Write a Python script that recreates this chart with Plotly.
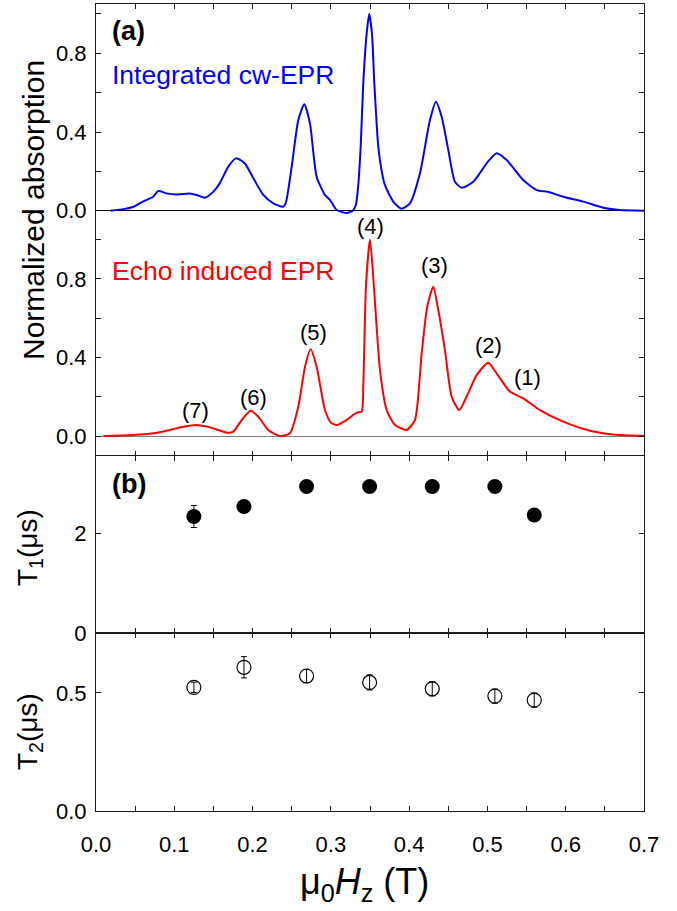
import plotly.graph_objects as go

# ---- Spectra -------------------------------------------------------------
cw_field = [0.019, 0.035, 0.048, 0.061, 0.073, 0.0796, 0.090, 0.103, 0.120, 0.1286,
            0.139, 0.150, 0.158, 0.169, 0.179, 0.190, 0.201, 0.2137, 0.2265, 0.239,
            0.2425, 0.250, 0.2584, 0.266, 0.2733, 0.2818, 0.2925, 0.299, 0.307, 0.320,
            0.328, 0.332, 0.335, 0.3381, 0.3414, 0.3457, 0.349, 0.3525, 0.3555, 0.3606,
            0.365, 0.369, 0.3797, 0.390, 0.401, 0.4138, 0.4266, 0.4342, 0.4415, 0.450,
            0.4585, 0.467, 0.4819, 0.499, 0.5117, 0.5245, 0.5457, 0.5628, 0.5777, 0.5968,
            0.6223, 0.648, 0.669, 0.700]
cw_abs = [0.0, 0.008, 0.02, 0.049, 0.071, 0.10, 0.088, 0.083, 0.088, 0.080,
          0.066, 0.097, 0.139, 0.224, 0.266, 0.241, 0.165, 0.080, 0.037, 0.02,
          0.04, 0.224, 0.461, 0.541, 0.444, 0.173, 0.08, 0.054, 0.005, -0.012,
          0.0, 0.03, 0.13, 0.325, 0.648, 0.90, 1.0, 0.90, 0.648, 0.325,
          0.2, 0.131, 0.046, 0.01, 0.037, 0.19, 0.461, 0.554, 0.478, 0.309,
          0.147, 0.117, 0.147, 0.241, 0.292, 0.258, 0.156, 0.105, 0.095, 0.071,
          0.046, 0.015, 0.003, 0.0]

echo_field = [0.0094, 0.0477, 0.073, 0.0945, 0.1115, 0.1286, 0.1456, 0.167, 0.1754, 0.186,
              0.1975, 0.2073, 0.220, 0.235, 0.2478, 0.2584, 0.267, 0.2742, 0.2818, 0.2925,
              0.300, 0.3074, 0.320, 0.333, 0.3393, 0.3414, 0.3448, 0.350, 0.355, 0.3627,
              0.3713, 0.3819, 0.3968, 0.4074, 0.416, 0.4231, 0.4308, 0.4372, 0.4457, 0.4543,
              0.464, 0.4734, 0.4862, 0.501, 0.5117, 0.5287, 0.5457, 0.567, 0.5968, 0.6309,
              0.6607, 0.700]
echo_amp = [0.0, 0.005, 0.014, 0.031, 0.047, 0.056, 0.044, 0.017, 0.022, 0.081,
            0.129, 0.098, 0.031, 0.0, 0.014, 0.149, 0.353, 0.441, 0.353, 0.132,
            0.068, 0.056, 0.081, 0.119, 0.124, 0.251, 0.76, 1.0, 0.76, 0.336,
            0.132, 0.056, 0.031, 0.081, 0.421, 0.658, 0.76, 0.641, 0.438, 0.2,
            0.132, 0.2, 0.31, 0.373, 0.319, 0.226, 0.192, 0.132, 0.073, 0.027,
            0.008, 0.0]

# ---- Relaxation times at the resonance fields ------------------------------
peak_field = [0.125, 0.189, 0.269, 0.3495, 0.4295, 0.5095, 0.5598]
t1_us = [2.33, 2.53, 2.93, 2.93, 2.93, 2.93, 2.36]
t1_err = [0.22, 0.05, 0.05, 0.05, 0.05, 0.05, 0.05]
t2_us = [0.523, 0.608, 0.571, 0.544, 0.517, 0.486, 0.469]
t2_err = [0.022, 0.045, 0.028, 0.032, 0.03, 0.03, 0.03]

# ---- Transition labels ----------------------------------------------------
peak_names = ["(7)", "(6)", "(5)", "(4)", "(3)", "(2)", "(1)"]
peak_label_x = [0.1265, 0.2018, 0.2772, 0.3509, 0.4322, 0.5011, 0.5509]
peak_label_y = [0.132, 0.198, 0.529, 1.064, 0.870, 0.463, 0.30]

W, H = 677, 911
ML, MR, MT, MB = 96, 33, 4, 100
PW, PH = W - ML - MR, H - MT - MB
FONT = "Liberation Sans, Arial, sans-serif"
AX = "#1a1a1a"


def py(px):
    """pixel row -> paper y"""
    return (H - MB - px) / PH


def px_(x):
    """pixel column -> paper x"""
    return (x - ML) / PW


fig = go.Figure()

fig.add_trace(go.Scatter(x=cw_field, y=cw_abs, mode="lines",
                         line=dict(color="#0000ff", width=2, shape="spline", smoothing=0.6),
                         xaxis="x", yaxis="y", showlegend=False))
fig.add_trace(go.Scatter(x=echo_field, y=echo_amp, mode="lines",
                         line=dict(color="#ff0000", width=2, shape="spline", smoothing=0.6),
                         xaxis="x2", yaxis="y2", showlegend=False))
fig.add_trace(go.Scatter(x=peak_field, y=t1_us, mode="markers",
                         marker=dict(color="black", size=15, symbol="circle"),
                         error_y=dict(type="data", array=t1_err, color="black",
                                      thickness=1, width=3),
                         xaxis="x3", yaxis="y3", showlegend=False))
fig.add_trace(go.Scatter(x=peak_field, y=t2_us, mode="markers",
                         marker=dict(color="black", size=14, symbol="circle-open",
                                     line=dict(width=1.2, color="black")),
                         error_y=dict(type="data", array=t2_err, color="black",
                                      thickness=1, width=3),
                         xaxis="x4", yaxis="y4", showlegend=False))

tickfont = dict(family=FONT, size=22, color="black")
xcommon = dict(range=[0, 0.7], tick0=0, dtick=0.1, tickformat=".1f",
               ticks="inside", ticklen=5, tickcolor=AX, linecolor=AX, linewidth=1,
               minor=dict(tick0=0, dtick=0.05, ticks="inside", ticklen=5,
                          tickcolor=AX, showgrid=False),
               showgrid=False, zeroline=False, tickfont=tickfont, fixedrange=True)
ycommon = dict(ticks="inside", ticklen=5, tickcolor=AX, linecolor=AX, linewidth=1,
               showline=True, mirror="ticks", showgrid=False, tickfont=tickfont,
               ticklabelstandoff=4, fixedrange=True)
abs_axis = dict(tick0=0, dtick=0.4, tickformat=".1f",
                minor=dict(tick0=0, dtick=0.2, ticks="inside", ticklen=5,
                           tickcolor=AX, showgrid=False))

fig.update_layout(
    width=W, height=H,
    margin=dict(l=ML, r=MR, t=MT, b=MB),
    paper_bgcolor="white", plot_bgcolor="rgba(0,0,0,0)",
    font=dict(family=FONT, color="black"),
    xaxis=dict(xcommon, anchor="y", side="top", showline=True, mirror=False,
               showticklabels=False),
    yaxis=dict(ycommon, **abs_axis, domain=[py(218), 1.0], range=[-0.0371, 1.0508],
               zeroline=True, zerolinecolor="black", zerolinewidth=1),
    xaxis2=dict(xcommon, anchor="y2", showline=False, showticklabels=False),
    yaxis2=dict(ycommon, **abs_axis, domain=[py(456), py(210.7)], range=[-0.1018, 1.1466],
                zeroline=True, zerolinecolor="#808080", zerolinewidth=1),
    xaxis3=dict(xcommon, anchor="y3", showline=True, mirror="ticks",
                showticklabels=False),
    yaxis3=dict(ycommon, domain=[py(633), py(456)], range=[0, 3.54],
                tick0=0, dtick=2, tickformat="d", zeroline=False),
    xaxis4=dict(xcommon, anchor="y4", showline=True, mirror="ticks",
                showticklabels=True, ticklabelstandoff=14),
    yaxis4=dict(ycommon, domain=[0, py(633)], range=[0, 0.753],
                tick0=0, dtick=0.5, tickformat=".1f", zeroline=False),
)

ann = []
for name, lx, ly in zip(peak_names, peak_label_x, peak_label_y):
    ann.append(dict(x=lx, y=ly, xref="x2", yref="y2", text=name, showarrow=False,
                    font=dict(size=22, family=FONT, color="black"),
                    xanchor="center", yanchor="middle"))

ann += [
    dict(x=px_(110), y=py(31), xref="paper", yref="paper", text="<b>(a)</b>",
         showarrow=False, xanchor="left", yanchor="middle",
         font=dict(size=27, family=FONT, color="black")),
    dict(x=px_(110), y=py(484), xref="paper", yref="paper", text="<b>(b)</b>",
         showarrow=False, xanchor="left", yanchor="middle",
         font=dict(size=27, family=FONT, color="black")),
    dict(x=px_(110), y=py(75), xref="paper", yref="paper", text="Integrated cw-EPR",
         showarrow=False, xanchor="left", yanchor="middle",
         font=dict(size=26.5, family=FONT, color="#0000ff")),
    dict(x=px_(110), y=py(271), xref="paper", yref="paper", text="Echo induced EPR",
         showarrow=False, xanchor="left", yanchor="middle",
         font=dict(size=26.5, family=FONT, color="#ff0000")),
    dict(x=px_(33), y=py(210), xref="paper", yref="paper", text="Normalized absorption",
         showarrow=False, textangle=-90, xanchor="center", yanchor="middle",
         font=dict(size=30, family=FONT, color="black")),
    dict(x=px_(29), y=py(548), xref="paper", yref="paper", text="T<sub>1</sub>(μs)",
         showarrow=False, textangle=-90, xanchor="center", yanchor="middle",
         font=dict(size=28, family=FONT, color="black")),
    dict(x=px_(29), y=py(732), xref="paper", yref="paper", text="T<sub>2</sub>(μs)",
         showarrow=False, textangle=-90, xanchor="center", yanchor="middle",
         font=dict(size=28, family=FONT, color="black")),
    dict(x=px_(364), y=py(884), xref="paper", yref="paper",
         text="μ<sub>0</sub><i>H</i><sub>z</sub> (T)",
         showarrow=False, xanchor="center", yanchor="middle",
         font=dict(size=36, family=FONT, color="black")),
]
fig.update_layout(annotations=ann)

fig.write_html("out.html")
